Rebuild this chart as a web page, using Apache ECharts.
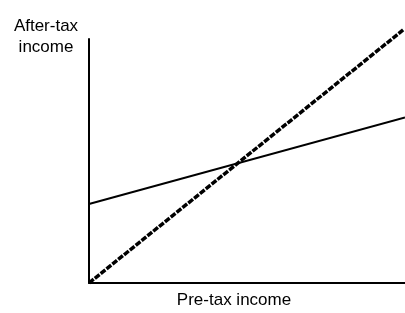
<!DOCTYPE html>
<html>
<head>
<meta charset="utf-8">
<title>Tax income</title>
<script src="https://cdn.jsdelivr.net/npm/echarts@6/dist/echarts.min.js"></script>
<style>
  html, body { margin: 0; padding: 0; background: #fff; }
  #main { width: 405px; height: 313px; }
</style>
</head>
<body>
<div id="main"></div>
<script type="text/javascript">
// pre-tax income points and the two after-tax lines
var preTax = [0, 99.4];
var noTaxLine = [0, 103.7];      // 45 degree line (dotted)
var taxedLine = [32.4, 67.8];    // with tax (solid)
var taxedEnd = 100;

var xName = 'Pre-tax income';
var yName = 'After-tax\nincome';

var myChart = echarts.init(document.getElementById('main'));

function pairs(xs, ys) {
    return xs.map(function (x, i) { return [x, ys[i]]; });
}

var option = {
    animation: false,
    grid: { left: 89, right: 0, top: 39, bottom: 30 },
    xAxis: {
        type: 'value', min: 0, max: 100,
        axisLine: { show: true, lineStyle: { color: '#000', width: 2 } },
        axisTick: { show: false }, axisLabel: { show: false }, splitLine: { show: false }
    },
    yAxis: {
        type: 'value', min: 0, max: 100,
        axisLine: { show: true, lineStyle: { color: '#000', width: 2 } },
        axisTick: { show: false }, axisLabel: { show: false }, splitLine: { show: false }
    },
    graphic: [
        {
            type: 'text',
            style: {
                text: yName, x: 46, y: 16, align: 'center',
                font: '17px "Liberation Sans", Arial, sans-serif',
                lineHeight: 21, fill: '#000'
            }
        },
        {
            type: 'text',
            style: {
                text: xName, x: 234, y: 292, align: 'center',
                font: '17px "Liberation Sans", Arial, sans-serif', fill: '#000'
            }
        }
    ],
    series: [
        {
            type: 'line', data: pairs([0, taxedEnd], taxedLine), clip: false,
            symbol: 'none', lineStyle: { color: '#000', width: 2 }
        },
        {
            type: 'line', data: pairs(preTax, noTaxLine), clip: false,
            symbol: 'none', lineStyle: { color: '#000', width: 3.5, type: [6, 1.5], cap: 'butt' }
        }
    ]
};
myChart.setOption(option);
</script>
</body>
</html>
